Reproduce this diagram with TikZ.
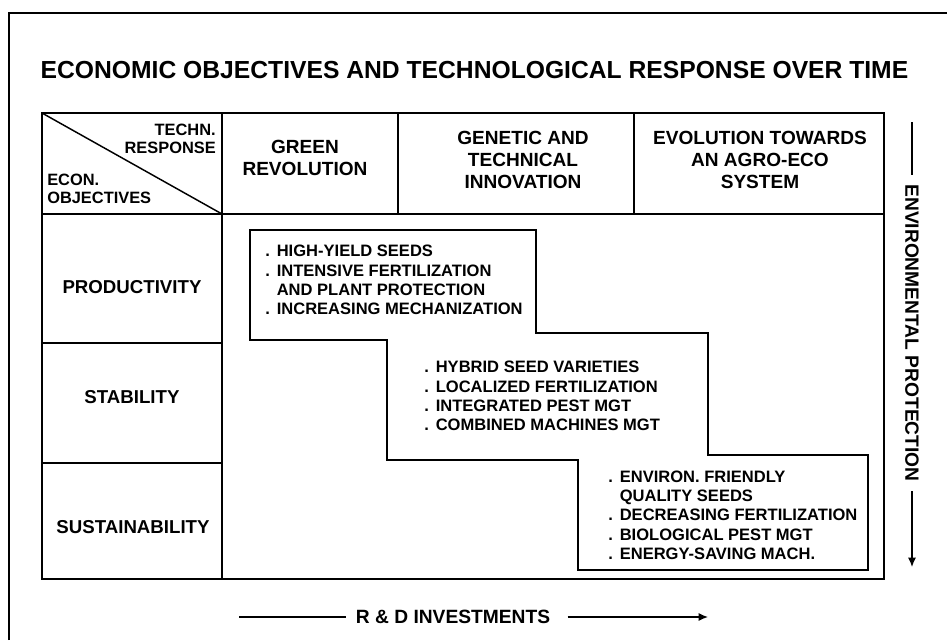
\documentclass[tikz,border=0pt]{standalone}
\usepackage{fontspec}
\setmainfont{Liberation Sans}
\usetikzlibrary{arrows.meta,positioning}

\newcommand{\dotitem}{.\hspace{0.42em}}
\newcommand{\dotskip}{\phantom{\dotitem}}

\begin{document}
\begin{tikzpicture}
    [x=0.75pt,y=-0.75pt,
    frame/.style={line width=2pt},
    border/.style={line width=1.5pt},
    rule/.style={line width=1.1pt},
    heading/.style={font=\bfseries\fontsize{14.3}{16.4}\selectfont,align=center},
    corner/.style={font=\bfseries\fontsize{12.3}{13.6}\selectfont,inner sep=0pt},
    objective/.style={font=\bfseries\fontsize{14}{16}\selectfont},
    items/.style={font=\bfseries\fontsize{12.4}{14.5}\selectfont,align=left,anchor=west,inner sep=0pt},
    axis/.style={font=\bfseries\fontsize{14.4}{16}\selectfont,inner sep=7pt},
    arrowline/.style={line width=0.9pt},
    post/.style={arrowline,-{Latex[length=7pt,width=6pt]}}]
    \useasboundingbox (0,0) rectangle (947,640);
    \draw[frame] (9,640) -- (9,13) -- (947,13);
    \node[font=\bfseries\fontsize{18.5}{22}\selectfont] (title) at (474.5,70.5)
        {ECONOMIC OBJECTIVES AND TECHNOLOGICAL RESPONSE OVER TIME};

    \draw[border] (42,113) rectangle (884,579);
    \draw[rule] (222,113) -- (222,579);
    \draw[rule] (42,214) -- (884,214);
    \draw[rule] (398,113) -- (398,214);
    \draw[rule] (634,113) -- (634,214);
    \draw[rule] (42,343) -- (222,343);
    \draw[rule] (42,463) -- (222,463);
    \draw[rule] (42,113) -- (222,214);

    \node[corner,align=right,anchor=east] (techn) at (216,139) {TECHN.\\RESPONSE};
    \node[corner,align=left,anchor=west] (econ) at (47,189) {ECON.\\OBJECTIVES};
    \node[heading] (green rev) at (305,158) {GREEN\\REVOLUTION};
    \node[heading] (genetic) at (523,160) {GENETIC AND\\TECHNICAL\\INNOVATION};
    \node[heading] (agro eco) at (760,160) {EVOLUTION TOWARDS\\AN AGRO-ECO\\SYSTEM};

    \node[objective] (productivity) at (132,287) {PRODUCTIVITY};
    \node[objective] (stability) at (132,397) {STABILITY};
    \node[objective] (sustainability) at (133,527) {SUSTAINABILITY};

    \draw[rule] (250,230) -- (536,230) -- (536,333) -- (708,333) -- (708,455)
        -- (868,455) -- (868,570) -- (578,570) -- (578,460) -- (387,460)
        -- (387,340) -- (250,340) -- cycle;

    \node[items] (high yield) at (265,280)
        {\dotitem HIGH-YIELD SEEDS\\\dotitem INTENSIVE FERTILIZATION\\
         \dotskip AND PLANT PROTECTION\\\dotitem INCREASING MECHANIZATION};
    \node[items] (hybrid) at (424,396)
        {\dotitem HYBRID SEED VARIETIES\\\dotitem LOCALIZED FERTILIZATION\\
         \dotitem INTEGRATED PEST MGT\\\dotitem COMBINED MACHINES MGT};
    \node[items] (environ) at (608,515)
        {\dotitem ENVIRON. FRIENDLY\\\dotskip QUALITY SEEDS\\
         \dotitem DECREASING FERTILIZATION\\\dotitem BIOLOGICAL PEST MGT\\
         \dotitem ENERGY-SAVING MACH.};

    \coordinate (rd start) at (239,617);
    \coordinate (rd end) at (708,617);
    \node[axis] (rd) at (453,617) {R \& D INVESTMENTS};
    \draw[arrowline] (rd start) -- (rd.west);
    \draw[post,shorten <=6pt] (rd.east) -- (rd end);

    \coordinate (env start) at (912,122);
    \coordinate (env end) at (912,567);
    \node[axis,rotate=-90] (env) at (912,333) {ENVIRONMENTAL PROTECTION};
    \draw[arrowline] (env start) -- (env.west);
    \draw[post] (env.east) -- (env end);
\end{tikzpicture}
\end{document}
